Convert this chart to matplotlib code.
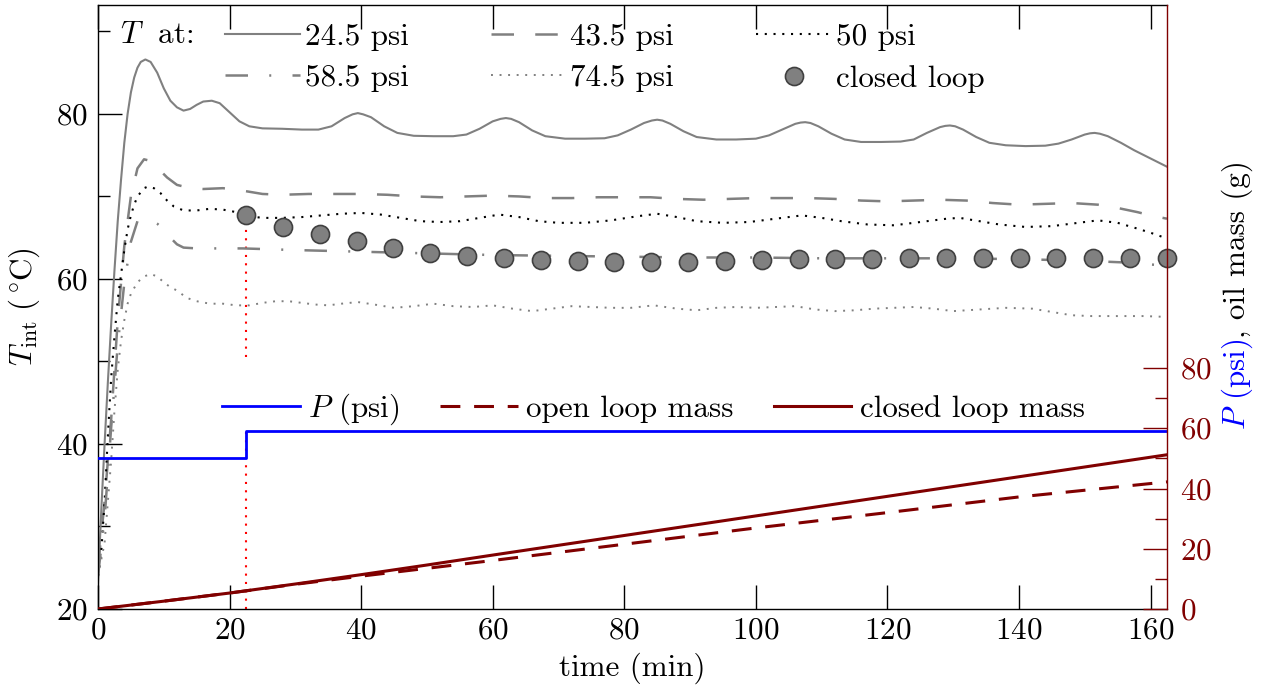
import matplotlib.pyplot as plt
from matplotlib.ticker import MultipleLocator, FixedLocator

plt.rcParams['font.family'] = 'serif'
plt.rcParams['font.serif'] = ['cmr10']
plt.rcParams['mathtext.fontset'] = 'cm'
plt.rcParams['axes.formatter.use_mathtext'] = True
plt.rcParams['font.size'] = 22.4

GRAY = '#808080'
DARKRED = '#800000'

# interface temperature at the five supply pressures (time in min, T in degC)
t_245 = [0, 0.5, 1, 1.5, 2, 2.5, 3, 3.5, 4, 4.5, 5, 5.5, 6, 6.5, 7.2, 8, 9, 10, 11, 12, 13, 14, 15, 16,
         17.3, 18.5, 20, 21.5, 23, 25, 28, 31, 33.5, 35.5, 37.5, 38.7, 39.5, 40.3, 41.5, 43.5, 45.5, 48,
         51, 54, 56, 58, 60, 61.2, 62, 62.8, 64, 66, 68, 71, 74, 77, 79, 81, 83, 84.2, 85, 85.8, 87,
         89, 91, 94, 97, 100, 102, 104, 106, 106.8, 107.5, 108.3, 109.5, 111.5, 113.5, 116, 119, 122,
         124, 126, 128, 128.8, 129.5, 130.3, 131.5, 133.5, 135.5, 138, 141, 144, 146, 148, 150,
         150.8, 151.5, 152.3, 153.5, 155.5, 157.5, 159.5, 161, 162.5]
T_245 = [23, 32, 40, 47.5, 54.5, 61, 67, 72, 76.5, 80, 82.6, 84.4, 85.6, 86.3, 86.6, 86.3, 85.0, 83.1,
         81.6, 80.8, 80.4, 80.6, 81.1, 81.5, 81.6, 81.3, 80.2, 79.1, 78.5, 78.25, 78.2, 78.1, 78.1,
         78.5, 79.5, 79.95, 80.1, 79.95, 79.6, 78.5, 77.7, 77.35, 77.3, 77.3, 77.5, 78.2, 79.1, 79.4,
         79.5, 79.4, 79.0, 78.0, 77.3, 77.0, 77.0, 77.05, 77.4, 78.1, 78.9, 79.2, 79.3, 79.2, 78.8,
         77.9, 77.2, 76.9, 76.9, 77.0, 77.4, 78.1, 78.8, 78.95, 79.0, 78.9, 78.5, 77.6, 76.9, 76.6,
         76.6, 76.65, 76.9, 77.7, 78.4, 78.55, 78.6, 78.5, 78.1, 77.2, 76.5, 76.2, 76.1, 76.15, 76.4,
         76.9, 77.5, 77.65, 77.7, 77.6, 77.3, 76.5, 75.6, 74.8, 74.2, 73.6]

t_435 = [0, 1, 2, 3, 4, 5, 6, 7, 8, 9, 10.5, 12, 14, 16, 19, 22, 25, 28, 32, 36, 40, 44, 48, 52, 56,
         60, 64, 68, 72, 76, 80, 84, 88, 92, 96, 100, 104, 108, 112, 116, 120, 124, 128, 132, 136,
         140, 144, 148, 152, 155, 158, 160, 162.5]
T_435 = [25, 33, 43, 55, 64, 70, 73.4, 74.5, 74.3, 73.5, 72.3, 71.4, 71.0, 70.9, 71.0, 70.7, 70.3,
         70.2, 70.3, 70.3, 70.3, 70.2, 70.0, 69.9, 70.0, 70.1, 70.0, 69.8, 69.8, 69.9, 69.9, 69.9,
         69.7, 69.6, 69.7, 69.8, 69.8, 69.8, 69.7, 69.5, 69.4, 69.5, 69.6, 69.5, 69.2, 69.0, 69.1,
         69.2, 69.0, 68.6, 68.1, 67.7, 67.3]

t_50 = [0, 0.5, 1, 1.5, 2, 2.5, 3, 3.5, 4, 4.5, 5, 5.5, 6, 7, 7.6, 8.5, 9.5, 10.5, 11.5, 13, 15, 17,
        19, 21, 23, 25, 28, 31, 34, 37, 40, 43, 46, 49, 52, 55, 58, 61, 64, 67, 70, 74, 78, 82, 85,
        88, 91, 95, 99, 103, 107, 110, 113, 117, 121, 125, 129, 131, 134, 137, 141, 145, 149, 152,
        155, 158, 160, 162.5]
T_50 = [24, 27, 33, 41, 48, 53, 57.5, 60.5, 63.5, 66, 67.7, 69, 70, 71, 71.2, 71, 70.4, 69.5, 68.8,
        68.3, 68.3, 68.5, 68.4, 68.1, 67.6, 67.4, 67.4, 67.5, 67.7, 67.9, 68.0, 67.8, 67.4, 67.0,
        66.9, 67.0, 67.4, 67.8, 67.5, 67.0, 66.8, 66.8, 67.1, 67.6, 67.9, 67.5, 67.0, 66.8, 66.9,
        67.3, 67.7, 67.4, 67.0, 66.6, 66.5, 66.9, 67.3, 67.4, 67.0, 66.6, 66.3, 66.4, 66.8, 67.1,
        66.8, 66.1, 65.6, 64.9]

t_585 = [0, 1, 2, 3, 4, 5, 6, 7, 8, 9, 10, 11, 12, 13, 15, 18, 22, 26, 30, 35, 40, 45, 50, 55, 60,
         70, 80, 90, 100, 110, 120, 130, 140, 150, 156, 162.5]
T_585 = [24, 31, 42, 52, 59.5, 64.5, 67.0, 67.3, 67.2, 66.7, 66.0, 65.0, 64.2, 63.8, 63.7, 63.7,
         63.7, 63.6, 63.5, 63.4, 63.3, 63.2, 63.1, 63.0, 62.9, 62.8, 62.7, 62.6, 62.6, 62.5, 62.5,
         62.5, 62.4, 62.2, 62.0, 61.6]

t_745 = [0, 1, 2, 2.5, 3, 3.5, 4, 4.5, 5, 6, 7, 8, 9, 10, 11, 12, 13.5, 15, 17, 19, 21, 23, 25, 27,
         29, 31, 33, 35, 37, 39.5, 42, 45, 48, 51, 54, 57, 60, 63, 66, 69, 72, 75, 78, 81, 84.5, 88,
         91, 94, 97, 100, 103, 106, 109, 112, 115, 118, 121, 124, 127, 130, 134, 138, 142, 145, 148,
         151, 155, 159, 162.5]
T_745 = [24, 28, 38, 44, 49, 52.5, 55, 57, 58.2, 59.6, 60.3, 60.6, 60.3, 59.6, 59.0, 58.6, 57.7,
         57.3, 57.0, 57.0, 56.8, 56.8, 57.1, 57.3, 57.3, 57.1, 56.9, 56.8, 57.0, 57.2, 56.9, 56.5,
         56.7, 57.0, 56.7, 56.6, 56.8, 56.4, 56.1, 56.4, 56.7, 56.6, 56.5, 56.5, 56.8, 56.4, 56.2,
         56.5, 56.6, 56.5, 56.6, 56.7, 56.3, 56.1, 56.2, 56.4, 56.5, 56.6, 56.4, 56.1, 56.3, 56.5,
         56.4, 56.0, 55.6, 55.5, 55.5, 55.5, 55.4]

# closed loop run
t_closed = [22.5, 28.1, 33.7, 39.3, 44.9, 50.5, 56.1, 61.7, 67.3, 72.9, 78.5, 84.1, 89.7, 95.3,
            100.9, 106.5, 112.1, 117.7, 123.3, 128.9, 134.5, 140.1, 145.7, 151.3, 156.9, 162.5]
T_closed = [67.7, 66.3, 65.4, 64.6, 63.8, 63.2, 62.75, 62.5, 62.3, 62.2, 62.0, 62.0, 62.0, 62.2,
            62.3, 62.4, 62.4, 62.4, 62.5, 62.5, 62.5, 62.5, 62.5, 62.5, 62.5, 62.5]

# loop switch marker
t_switch = 22.5
T_switch_low = [20, 41.5]
T_switch_high = [50.5, 67.7]

# supply pressure and accumulated oil mass
t_P = [0, 22.5, 162.5]
P = [50, 59, 59]
t_mass = [0, 10, 20, 30, 40, 50, 60, 80, 100, 120, 140, 162.5]
m_open = [0, 2.6, 5.3, 8.2, 10.9, 13.5, 16.1, 21.5, 26.9, 32.0, 37.2, 42.2]
m_closed = [0, 2.6, 5.3, 8.3, 11.4, 14.6, 17.9, 24.4, 30.9, 37.4, 43.9, 51.2]

fig = plt.figure(figsize=(12.63, 6.9), dpi=100)
ax = fig.add_axes([98 / 1263, 1 - 609 / 690, (1167 - 98) / 1263, (609 - 5) / 690])

l245, = ax.plot(t_245, T_245, color=GRAY, lw=1.5, label='24.5 psi')
l435, = ax.plot(t_435, T_435, color=GRAY, lw=1.8, dashes=(9, 8.5), label='43.5 psi')
l50, = ax.plot(t_50, T_50, color='black', lw=1.5, dashes=(1, 3.2), label='50 psi')
l585, = ax.plot(t_585, T_585, color=GRAY, lw=1.8, dashes=(9, 8.5, 0.8, 8.5), label='58.5 psi')
l745, = ax.plot(t_745, T_745, color=GRAY, lw=1.4, dashes=(1, 3.4), label='74.5 psi')
ax.plot([t_switch, t_switch], T_switch_low, color='red', lw=1.5, dashes=(1, 3), zorder=1)
ax.plot([t_switch, t_switch], T_switch_high, color='red', lw=1.5, dashes=(1, 3), zorder=1)
lcl, = ax.plot(t_closed, T_closed, 'o', ms=13, mfc=GRAY, mec='#404040', mew=1.2,
               clip_on=False, zorder=5, label='closed loop')

ax.set_xlim(0, 162.5)
ax.set_ylim(20, 93.2)
ax.xaxis.set_major_locator(MultipleLocator(20))
ax.yaxis.set_major_locator(MultipleLocator(20))
ax.yaxis.set_minor_locator(MultipleLocator(10))
ax.tick_params(axis='x', which='both', direction='in', top=True, bottom=True,
               length=17, width=1, pad=6)
ax.tick_params(axis='y', which='major', direction='in', left=True, right=False,
               length=17, width=1, pad=7)
ax.tick_params(axis='y', which='minor', direction='in', left=True, right=False,
               length=8.5, width=1)
ax.spines['right'].set_visible(False)
for s in ['left', 'top', 'bottom']:
    ax.spines[s].set_linewidth(1)

ax.set_xlabel('time (min)')
ax.xaxis.set_label_coords(0.5, -0.072)
ax.set_ylabel(r'$T_\mathrm{int}\ (^\circ\!\mathrm{C})$')
ax.yaxis.set_label_coords(-0.052, 0.5)

ax.text(0.021, 0.950, r'$T\ $ at:', transform=ax.transAxes, ha='left', va='center')
ax.legend([l245, l585, l435, l745, l50, lcl],
          ['24.5 psi', '58.5 psi', '43.5 psi', '74.5 psi', '50 psi', 'closed loop'],
          ncol=3, loc='upper left', bbox_to_anchor=(0.119, 0.970), frameon=False,
          borderpad=0, borderaxespad=0, handlelength=2.4, handletextpad=0.15,
          columnspacing=2.65, labelspacing=0.44, numpoints=1)

ax2 = ax.twinx()
lP, = ax2.plot(t_P, P, color='blue', lw=2, drawstyle='steps-post', label='$P$ (psi)')
lmo, = ax2.plot(t_mass, m_open, color=DARKRED, lw=2.2, dashes=(6.5, 4.5), label='open loop mass')
lmc, = ax2.plot(t_mass, m_closed, color=DARKRED, lw=2.2, label='closed loop mass')
ax2.set_xlim(0, 162.5)
ax2.set_ylim(0, 200.5)
ax2.yaxis.set_major_locator(FixedLocator([0, 20, 40, 60, 80]))
ax2.yaxis.set_minor_locator(FixedLocator([10, 30, 50, 70]))
ax2.tick_params(axis='y', which='major', direction='in', length=17, width=1, pad=9,
                colors=DARKRED)
ax2.tick_params(axis='y', which='minor', direction='in', length=8.5, width=1, colors=DARKRED)
ax2.spines['right'].set_color(DARKRED)
ax2.spines['right'].set_linewidth(1)
for s in ['left', 'top', 'bottom']:
    ax2.spines[s].set_visible(False)

ax2.legend(handles=[lP, lmo, lmc], ncol=3, loc='center left', bbox_to_anchor=(0.116, 0.33),
           frameon=False, borderpad=0, borderaxespad=0, handlelength=2.5,
           handletextpad=0.26, columnspacing=1.3)

# two-colour label on the right axis
lab_p = fig.text(0.980, 1 - 430 / 690, '$P$ (psi)', color='blue', rotation=90,
                 ha='center', va='bottom')
fig.canvas.draw()
bb = lab_p.get_window_extent()
fig.text(0.980, bb.y1 / fig.bbox.height, ', oil mass (g)', color='black', rotation=90,
         ha='center', va='bottom')

fig.savefig('out.png', dpi=100)
